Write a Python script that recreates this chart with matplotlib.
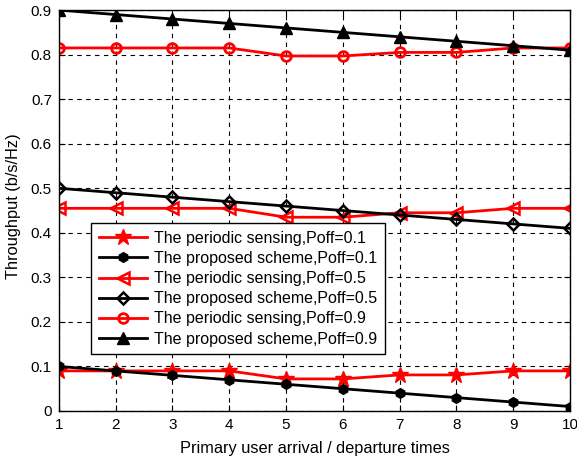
import matplotlib
matplotlib.use("Agg")
import matplotlib.pyplot as plt

plt.rcParams['font.family'] = ['Liberation Sans', 'DejaVu Sans']

x = [1, 2, 3, 4, 5, 6, 7, 8, 9, 10]
periodic_01 = [0.09, 0.09, 0.09, 0.09, 0.072, 0.072, 0.081, 0.081, 0.09, 0.09]
proposed_01 = [0.10, 0.09, 0.08, 0.07, 0.06, 0.05, 0.04, 0.03, 0.02, 0.01]
periodic_05 = [0.455, 0.455, 0.455, 0.455, 0.435, 0.435, 0.445, 0.445, 0.455, 0.455]
proposed_05 = [0.50, 0.49, 0.48, 0.47, 0.46, 0.45, 0.44, 0.43, 0.42, 0.41]
periodic_09 = [0.815, 0.815, 0.815, 0.815, 0.797, 0.797, 0.805, 0.805, 0.815, 0.815]
proposed_09 = [0.90, 0.89, 0.88, 0.87, 0.86, 0.85, 0.84, 0.83, 0.82, 0.81]
labels = ["The periodic sensing,Poff=0.1", "The proposed scheme,Poff=0.1",
          "The periodic sensing,Poff=0.5", "The proposed scheme,Poff=0.5",
          "The periodic sensing,Poff=0.9", "The proposed scheme,Poff=0.9"]

fig = plt.figure(figsize=(5.77, 4.59), dpi=100)
ax = fig.add_axes([0.102, 0.1046, 0.886, 0.8734])

lw = 2
ax.plot(x, periodic_01, color='red', lw=lw, marker='*', ms=12, mfc='red', mec='red', label=labels[0])
ax.plot(x, proposed_01, color='black', lw=lw, marker='h', ms=7, mfc='black', mec='black', label=labels[1])
ax.plot(x, periodic_05, color='red', lw=lw, marker='<', ms=9, mfc='none', mec='red', mew=1.8, label=labels[2])
ax.plot(x, proposed_05, color='black', lw=lw, marker='D', ms=6, mfc='none', mec='black', mew=1.8, label=labels[3])
ax.plot(x, periodic_09, color='red', lw=lw, marker='o', ms=7, mfc='none', mec='red', mew=2, label=labels[4])
ax.plot(x, proposed_09, color='black', lw=lw, marker='^', ms=9, mfc='black', mec='black', label=labels[5])

ax.set_xlim(1, 10)
ax.set_ylim(0, 0.9)
ax.set_xticks(x)
ax.set_yticks([0, 0.1, 0.2, 0.3, 0.4, 0.5, 0.6, 0.7, 0.8, 0.9])
ax.set_yticklabels(['0', '0.1', '0.2', '0.3', '0.4', '0.5', '0.6', '0.7', '0.8', '0.9'])
ax.grid(True, color='black', linestyle=(0, (4, 4)), linewidth=0.8)
ax.tick_params(direction='in', labelsize=11, length=4, pad=5, top=True, right=True)
for s in ax.spines.values():
    s.set_linewidth(1)
ax.set_xlabel("Primary user arrival / departure times", fontsize=11.8)
ax.set_ylabel("Throughput (b/s/Hz)", fontsize=11.8)
ax.xaxis.set_label_coords(0.5, -0.075)
ax.yaxis.set_label_coords(-0.074, 0.51)

leg = ax.legend(loc='upper left', bbox_to_anchor=(0.0626, 0.469), fontsize=11.5,
                frameon=True, fancybox=False, edgecolor='black', framealpha=1,
                borderaxespad=0, handlelength=3.0, handletextpad=0.45,
                labelspacing=0.32, borderpad=0.5)
leg.get_frame().set_linewidth(1)

fig.savefig("out.png", dpi=100)
